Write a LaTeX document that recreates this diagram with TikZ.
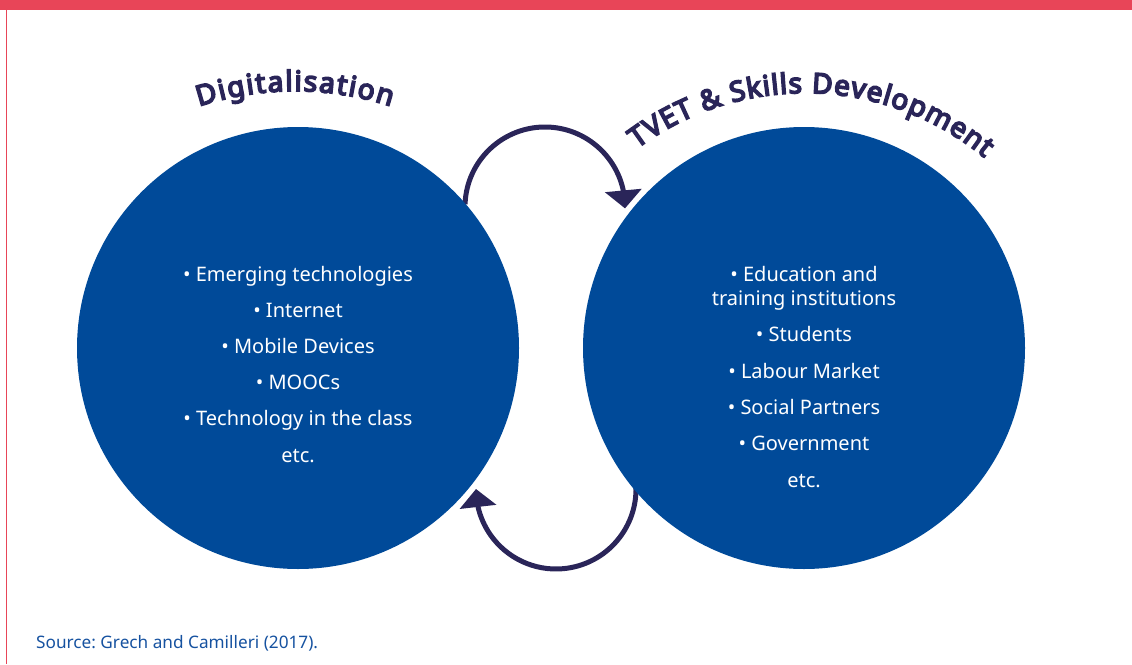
\documentclass[tikz,border=0pt]{standalone}
\usepackage{fontspec}
\setmainfont{Noto Sans}
\newfontfamily\hdfam{Noto Sans}[FakeBold=6]
\usetikzlibrary{arrows.meta,bending}
\definecolor{circblue}{RGB}{0,74,153}
\definecolor{navy}{RGB}{42,37,89}
\definecolor{barred}{RGB}{232,69,88}
\definecolor{srcblue}{RGB}{22,82,160}
\newcommand\hdfont{\hdfam\fontsize{28}{34}\selectfont}
\newdimen\cpos
\newdimen\chalf
\newdimen\ctrack
\newbox\cbox
\newcount\cidx
% measure letters outside the picture: #1 tag, #2 tracking, #3 comma list of characters
\newcommand\measuretext[3]{%
  \global\ctrack=#2
  \global\cpos=0pt
  \foreach \ch in {#3}{%
    \setbox\cbox\hbox{\hdfont\ch}%
    \global\advance\cpos by \wd\cbox
    \global\advance\cpos by \ctrack
  }%
  \global\cpos=-0.5\cpos
  \global\cidx=0
  \foreach \ch in {#3}{%
    \global\advance\cidx by 1
    \setbox\cbox\hbox{\hdfont\ch}%
    \chalf=\wd\cbox
    \advance\chalf by \ctrack
    \chalf=0.5\chalf
    \advance\chalf by \cpos
    \expandafter\xdef\csname off#1\the\cidx\endcsname{\the\chalf}%
    \global\advance\cpos by \wd\cbox
    \global\advance\cpos by \ctrack
  }%
}
% place letters: #1 tag, #2 centre x, #3 centre y, #4 radius, #5 middle angle, #6 list
\newcommand\curvetext[6]{%
  \foreach \ch [count=\k] in {#6}{%
    \pgfmathsetmacro\ang{#5-(\csname off#1\k\endcsname)/#4*57.29578}%
    \node[letter, rotate=\ang-90] at ([shift={(\ang:#4)}]#2,#3) {\ch};
  }%
}
\begin{document}%
\measuretext{A}{1.7pt}{D,i,g,i,t,a,l,i,s,a,t,i,o,n}%
\measuretext{B}{1.1pt}{T,V,E,T,~,\&,~,S,k,i,l,l,s,~,D,e,v,e,l,o,p,m,e,n,t}%
\begin{tikzpicture}[x=1pt,y=1pt,
  item/.style={text=white, font=\fontsize{20}{24}\selectfont, anchor=base, inner sep=0pt},
  letter/.style={anchor=base, inner sep=0pt, text=navy, font=\hdfont},
  arrowarc/.style={draw=navy, line width=5pt, -{Triangle[width=36pt,length=18pt]}},
  bubble/.style={circle, fill=circblue, minimum size=442pt, inner sep=0pt}]
\useasboundingbox (0,0) rectangle (1132,-664);
\fill[barred] (0,0) rectangle (1132,-10);
\draw[barred, line width=1.2pt] (6.5,-10) -- (6.5,-664);
% feedback arrows (drawn first, their tails hide behind the circles)
\coordinate (topc) at (545,-207);
\coordinate (botc) at (556,-489);
\draw[arrowarc] ([shift={(178:80)}]topc) arc[start angle=178, end angle=-1, radius=80];
\draw[arrowarc] ([shift={(5:80)}]botc) arc[start angle=5, end angle=-180, radius=80];
% circles
\node[bubble] (dig) at (298,-348) {};
\node[bubble] (tvet) at (804,-348) {};
% headings on arcs
\curvetext{A}{295}{-399}{308}{90}{D,i,g,i,t,a,l,i,s,a,t,i,o,n}
\curvetext{B}{805}{-374}{281}{88.5}{T,V,E,T,~,\&,~,S,k,i,l,l,s,~,D,e,v,e,l,o,p,m,e,n,t}
% left items
\node[item] (d1) at (298,-281) {• Emerging technologies};
\node[item] (d2) at (298,-317) {• Internet};
\node[item] (d3) at (298,-353) {• Mobile Devices};
\node[item] (d4) at (298,-389) {• MOOCs};
\node[item] (d5) at (298,-425) {• Technology in the class};
\node[item] (d6) at (298,-462) {etc.};
% right items
\node[item] (t1a) at (804,-281) {• Education and};
\node[item] (t1b) at (804,-305) {training institutions};
\node[item] (t2) at (804,-341) {• Students};
\node[item] (t3) at (804,-378) {• Labour Market};
\node[item] (t4) at (804,-414) {• Social Partners};
\node[item] (t5) at (804,-450) {• Government};
\node[item] (t6) at (804,-487) {etc.};
% source
\node[font=\fontsize{17.2}{20}\selectfont\frenchspacing, text=srcblue, anchor=base west, inner sep=0pt] (src) at (36,-648) {Source: Grech and Camilleri (2017).};
\end{tikzpicture}
\end{document}
